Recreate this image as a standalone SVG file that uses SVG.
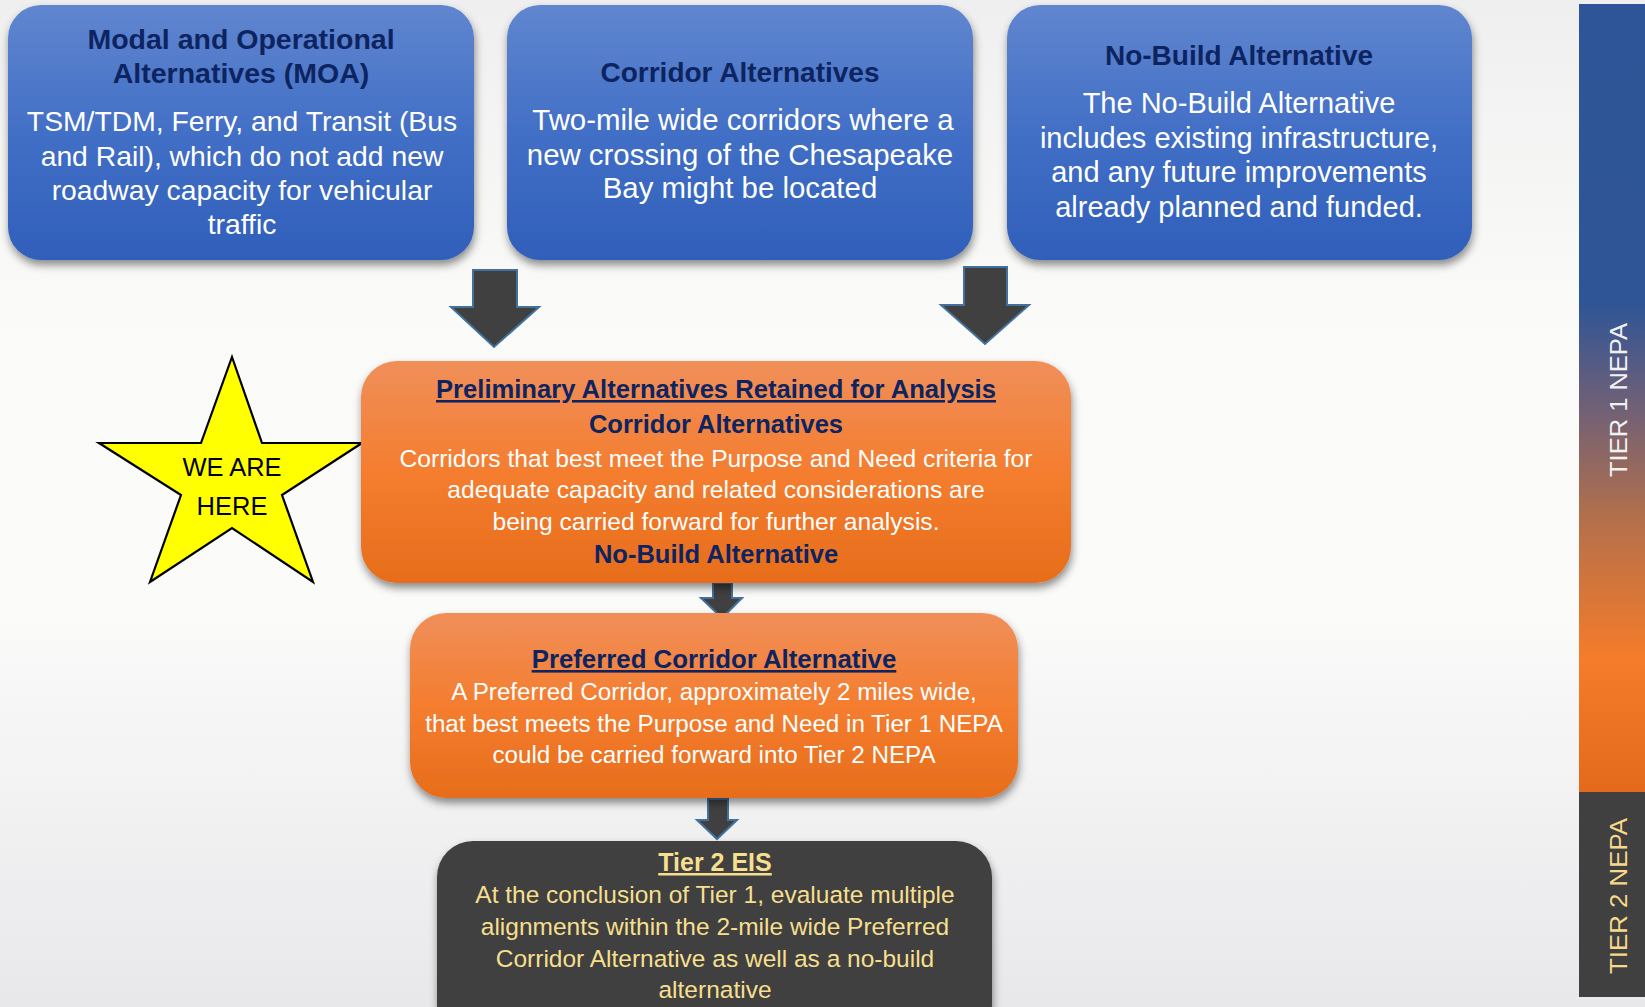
<svg xmlns="http://www.w3.org/2000/svg" width="1645" height="1007" viewBox="0 0 1645 1007">
<defs>
<linearGradient id="bg" x1="0" y1="0" x2="0" y2="1">
<stop offset="0" stop-color="#efefef"/>
<stop offset="0.3" stop-color="#fafaf9"/>
<stop offset="0.6" stop-color="#fbfbfa"/>
<stop offset="1" stop-color="#e8e8eb"/>
</linearGradient>
<linearGradient id="blue" x1="0" y1="0" x2="0" y2="1">
<stop offset="0" stop-color="#6086cf"/>
<stop offset="0.5" stop-color="#426fc6"/>
<stop offset="1" stop-color="#2f5fba"/>
</linearGradient>
<linearGradient id="orange" x1="0" y1="0" x2="0" y2="1">
<stop offset="0" stop-color="#f08f5a"/>
<stop offset="0.5" stop-color="#f47d2f"/>
<stop offset="1" stop-color="#e76d1b"/>
</linearGradient>
<linearGradient id="side" x1="0" y1="4" x2="0" y2="792" gradientUnits="userSpaceOnUse">
<stop offset="0" stop-color="#2e5597"/>
<stop offset="0.38" stop-color="#2f5596"/>
<stop offset="0.5" stop-color="#6a5f7a"/>
<stop offset="0.65" stop-color="#b26f4c"/>
<stop offset="0.83" stop-color="#f57c2a"/>
<stop offset="1" stop-color="#e36a1b"/>
</linearGradient>
<filter id="sh" x="-10%" y="-10%" width="120%" height="130%">
<feDropShadow dx="1" dy="5" stdDeviation="4" flood-color="#000" flood-opacity="0.45"/>
</filter>
<style>
.t{font-family:"Liberation Sans",Arial,sans-serif;text-anchor:middle}
.hb{font-weight:bold;fill:#0d2461}
.w{fill:#ffffff}
.y{fill:#f6df8e}
.u{text-decoration:underline}
.arr{fill:#404040;stroke:#41719c;stroke-width:2;stroke-linejoin:miter}
</style>
</defs>
<rect x="0" y="0" width="1645" height="1007" fill="url(#bg)"/>

<g id="sidebar">
<rect x="1579" y="4" width="66" height="788" fill="url(#side)"/>
<rect x="1579" y="792" width="66" height="205" fill="#404040"/>
<text class="t" transform="translate(1627,400) rotate(-90)" font-size="23" fill="#f2f2f2" textLength="154" lengthAdjust="spacingAndGlyphs">TIER 1 NEPA</text>
<text class="t" transform="translate(1627,896) rotate(-90)" font-size="23" fill="#f6d98a" textLength="156" lengthAdjust="spacingAndGlyphs">TIER 2 NEPA</text>
</g>

<g id="moa">
<rect x="8" y="5" width="466" height="255" rx="33" fill="url(#blue)" filter="url(#sh)"/>
<text class="t hb" x="241" y="49" font-size="28.5">Modal and Operational</text>
<text class="t hb" x="241" y="83" font-size="28.5">Alternatives (MOA)</text>
<text class="t w" x="242" y="131" font-size="28.3">TSM/TDM, Ferry, and Transit (Bus</text>
<text class="t w" x="242" y="166" font-size="28.3">and Rail), which do not add new</text>
<text class="t w" x="242" y="200" font-size="28.3">roadway capacity for vehicular</text>
<text class="t w" x="242" y="234" font-size="28.3">traffic</text>
</g>

<g id="corridor">
<rect x="507" y="5" width="466" height="255" rx="33" fill="url(#blue)" filter="url(#sh)"/>
<text class="t hb" x="740" y="82" font-size="28">Corridor Alternatives</text>
<text class="t w" x="743" y="130" font-size="29.4">Two-mile wide corridors where a</text>
<text class="t w" x="740" y="165" font-size="29.4">new crossing of the Chesapeake</text>
<text class="t w" x="740" y="198" font-size="29.4">Bay might be located</text>
</g>

<g id="nobuild">
<rect x="1007" y="5" width="465" height="255" rx="33" fill="url(#blue)" filter="url(#sh)"/>
<text class="t hb" x="1239" y="65" font-size="28">No-Build Alternative</text>
<text class="t w" x="1239" y="113" font-size="29">The No-Build Alternative</text>
<text class="t w" x="1239" y="148" font-size="29">includes existing infrastructure,</text>
<text class="t w" x="1239" y="182" font-size="29">and any future improvements</text>
<text class="t w" x="1239" y="217" font-size="29">already planned and funded.</text>
</g>

<g id="connectors">
<polygon class="arr" points="473,270 517,270 517,307 539,307 494,347 451,307 473,307"/>
<polygon class="arr" points="964,267 1007,267 1007,305 1029,305 985,344 941,305 964,305"/>
<polygon class="arr" points="713,583 732,583 732,598 742,598 722,618 701,598 713,598"/>
<polygon class="arr" points="708,799 728,799 728,820 737,820 717,839 697,820 708,820"/>
</g>

<g id="star">
<polygon points="232,357 262,443 362,443 282,495 313,582 232,528 150,582 181,495 99,443 201,443" fill="#ffff00" stroke="#000" stroke-width="2.2" stroke-linejoin="miter"/>
<text class="t" x="232" y="476" font-size="25.5" fill="#000">WE ARE</text>
<text class="t" x="232" y="515" font-size="25.5" fill="#000">HERE</text>
</g>

<g id="preliminary">
<rect x="361" y="361" width="710" height="222" rx="36" fill="url(#orange)" filter="url(#sh)"/>
<text class="t hb u" x="716" y="398" font-size="25.6">Preliminary Alternatives Retained for Analysis</text>
<text class="t hb" x="716" y="433" font-size="25.5">Corridor Alternatives</text>
<text class="t w" x="716" y="467" font-size="24.6">Corridors that best meet the Purpose and Need criteria for</text>
<text class="t w" x="716" y="498" font-size="24.6">adequate capacity and related considerations are</text>
<text class="t w" x="716" y="530" font-size="24.6">being carried forward for further analysis.</text>
<text class="t hb" x="716" y="563" font-size="25.5">No-Build Alternative</text>
</g>

<g id="preferred">
<rect x="410" y="613" width="608" height="185" rx="36" fill="url(#orange)" filter="url(#sh)"/>
<text class="t hb u" x="714" y="668" font-size="25.8">Preferred Corridor Alternative</text>
<text class="t w" x="714" y="700" font-size="24.2">A Preferred Corridor, approximately 2 miles wide,</text>
<text class="t w" x="714" y="732" font-size="24.2">that best meets the Purpose and Need in Tier 1 NEPA</text>
<text class="t w" x="714" y="763" font-size="24.2">could be carried forward into Tier 2 NEPA</text>
</g>

<g id="tier2eis">
<rect x="437" y="841" width="555" height="200" rx="36" fill="#404040" filter="url(#sh)"/>
<text class="t y u" x="715" y="871" font-size="25" font-weight="bold">Tier 2 EIS</text>
<text class="t y" x="715" y="903" font-size="24.5">At the conclusion of Tier 1, evaluate multiple</text>
<text class="t y" x="715" y="935" font-size="24.5">alignments within the 2-mile wide Preferred</text>
<text class="t y" x="715" y="967" font-size="24.5">Corridor Alternative as well as a no-build</text>
<text class="t y" x="715" y="998" font-size="24.5">alternative</text>
</g>
</svg>
